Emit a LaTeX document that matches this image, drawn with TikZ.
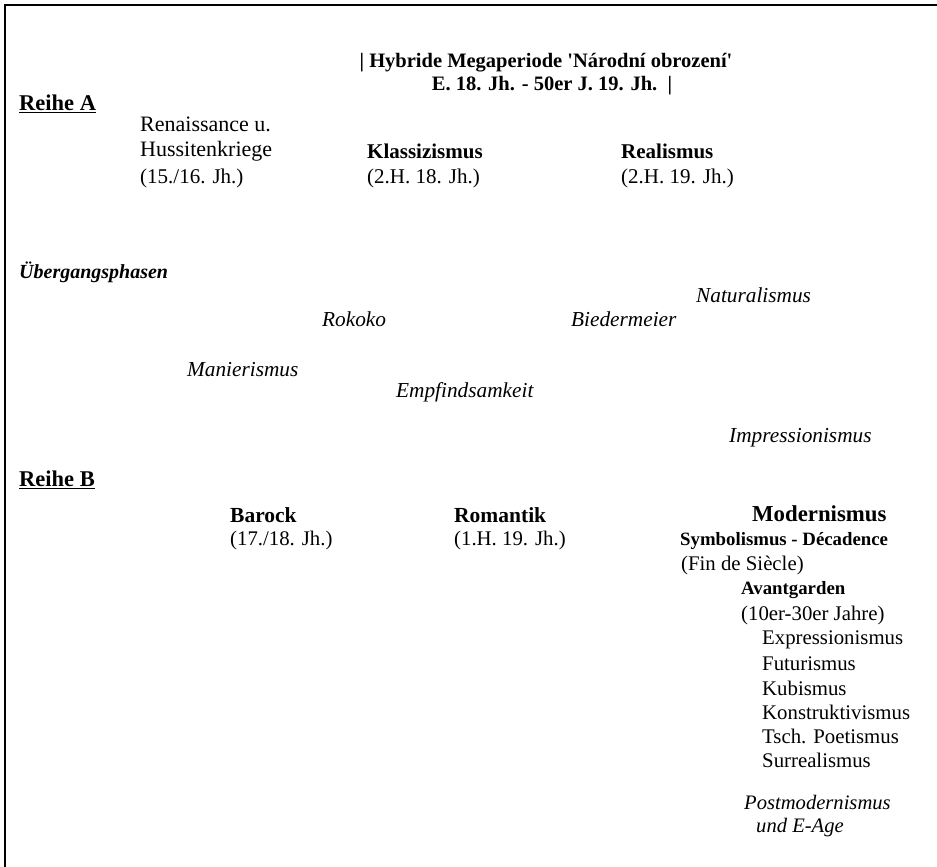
\documentclass[tikz,border=0pt]{standalone}
\usepackage{fontspec}
\setmainfont{Liberation Serif}
\newfontfamily\qfont{Liberation Serif}
\begin{document}
\begin{tikzpicture}[x=1pt,y=-1pt,
  base/.style={anchor=west,inner sep=0pt},
  txt/.style={base,font=\fontsize{22}{24}\selectfont},
  btxt/.style={base,font=\fontsize{21}{24}\selectfont\bfseries},
  par/.style={base,font=\fontsize{21}{24}\selectfont},
  ttl/.style={anchor=center,inner sep=0pt,font=\fontsize{20.5}{24}\selectfont\bfseries},
  hdr/.style={base,font=\fontsize{22.5}{24}\selectfont\bfseries},
  itx/.style={base,font=\fontsize{21.3}{24}\selectfont\itshape},
  low/.style={base,font=\fontsize{20.8}{24}\selectfont},
  lowb/.style={base,font=\fontsize{18.8}{24}\selectfont\bfseries},
  bigb/.style={base,font=\fontsize{21.5}{24}\selectfont\bfseries},
  frame/.style={line width=2pt}]
\useasboundingbox (0,0) rectangle (937,867);
\coordinate (f0) at (5,867);
\coordinate (f1) at (5,5);
\coordinate (f2) at (937,5);
\draw[frame] (f0) -- (f1) -- (f2);
% title
\node[ttl] (t1) at (546,63) {| Hybride Megaperiode {\qfont\bfseries '}Národní obrození{\qfont\bfseries '}};
\node[ttl] (t2) at (552,86) {E. 18. Jh. - 50er J. 19. Jh.\ \ |};
% Reihe A
\node[hdr] (ra) at (19,104) {\underline{Reihe A}};
\node[txt] (ren1) at (140,124) {Renaissance u.};
\node[txt] (ren2) at (140,151) {Hussitenkriege};
\node[par] (ren3) at (140,178) {(15./16. Jh.)};
\node[btxt] (kl1) at (367,151) {Klassizismus};
\node[par] (kl2) at (367,178) {(2.H. 18. Jh.)};
\node[btxt] (re1) at (621,151) {Realismus};
\node[par] (re2) at (621,178) {(2.H. 19. Jh.)};
% Uebergangsphasen
\node[base,font=\fontsize{20}{24}\selectfont\bfseries\itshape] (ue) at (19,272) {Übergangsphasen};
\node[itx] (nat) at (696,295) {Naturalismus};
\node[itx] (rok) at (322,319) {Rokoko};
\node[itx] (bie) at (571,319) {Biedermeier};
\node[itx] (man) at (187,370) {Manierismus};
\node[itx] (emp) at (396,392) {Empfindsamkeit};
\node[itx] (imp) at (729,438) {Impressionismus};
% Reihe B
\node[hdr] (rb) at (19,480) {\underline{Reihe B}};
\node[bigb] (ba1) at (230,515) {Barock};
\node[low] (ba2) at (230,540) {(17./18. Jh.)};
\node[bigb] (ro1) at (454,515) {Romantik};
\node[low] (ro2) at (454,540) {(1.H. 19. Jh.)};
\node[base,font=\fontsize{22.8}{24}\selectfont\bfseries] (mo1) at (752,514) {Modernismus};
\node[lowb] (sy1) at (680,541) {Symbolismus - Décadence};
\node[low] (sy2) at (681,565) {(Fin de Siècle)};
\node[lowb] (av1) at (741,590) {Avantgarden};
\node[low] (av2) at (741,615) {(10er-30er Jahre)};
\node[low] (e1) at (762,640) {Expressionismus};
\node[low] (e2) at (762,664) {Futurismus};
\node[low] (e3) at (762,688) {Kubismus};
\node[low] (e4) at (762,712) {Konstruktivismus};
\node[low] (e5) at (762,736) {Tsch. Poetismus};
\node[low] (e6) at (762,760) {Surrealismus};
\node[itx,font=\fontsize{20.6}{24}\selectfont\itshape] (pm1) at (744,802) {Postmodernismus};
\node[itx,font=\fontsize{20.6}{24}\selectfont\itshape] (pm2) at (756,828) {und E-Age};
\end{tikzpicture}
\end{document}
